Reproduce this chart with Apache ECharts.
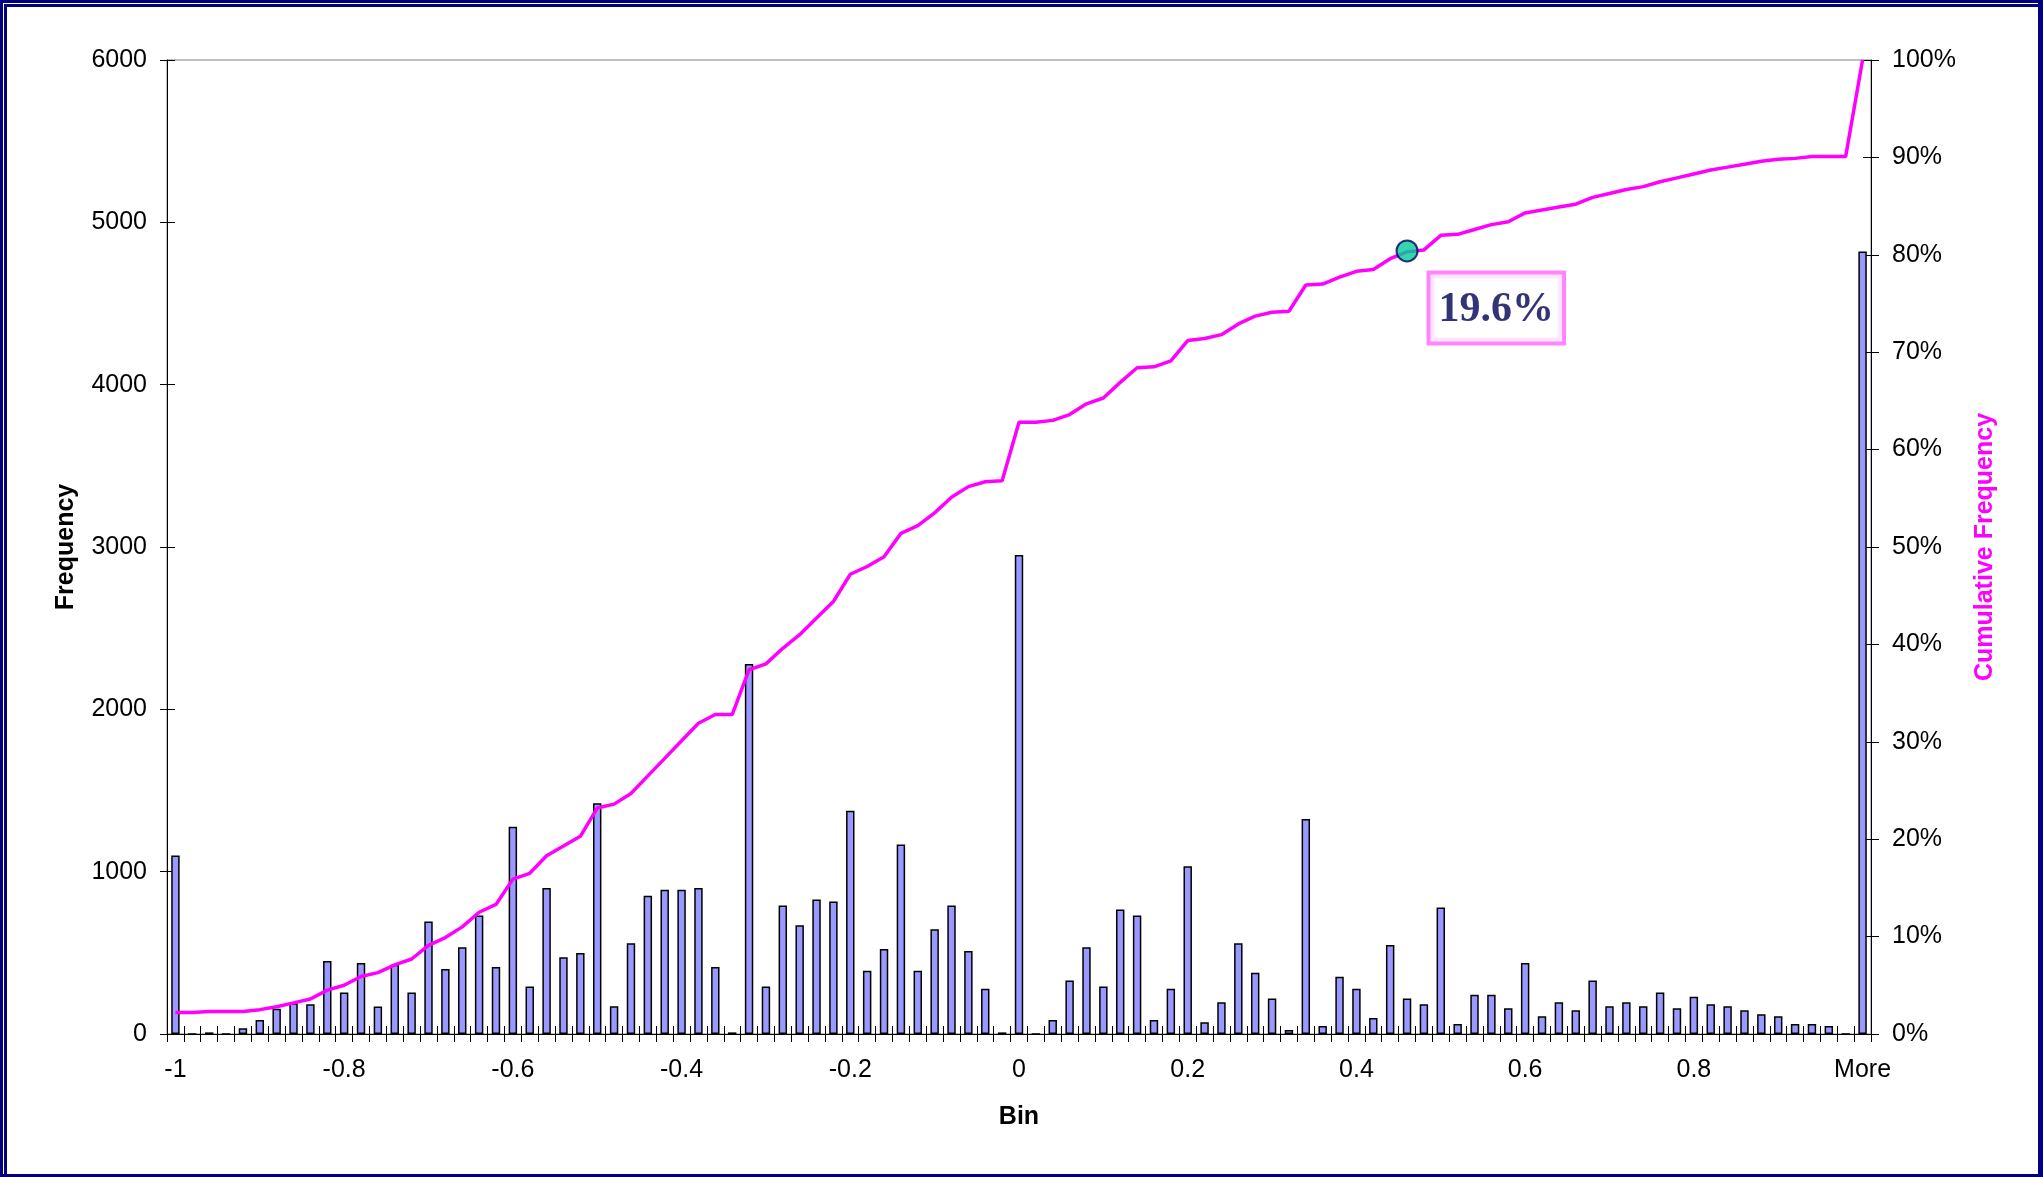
<!DOCTYPE html>
<html>
<head>
<meta charset="utf-8">
<title>Histogram</title>
<script src="https://cdn.jsdelivr.net/npm/echarts@6/dist/echarts.min.js"></script>
<style>
  html, body { margin: 0; padding: 0; background: #fff; }
  #wrap { position: relative; width: 2043px; height: 1177px; }
  #chart { position: absolute; left: 0; top: 0; width: 2043px; height: 1177px; }
  .frame1 { position: absolute; left: 0; top: 0; right: 0; bottom: 0;
            border-style: solid; border-color: #000080;
            border-width: 3px 5px 3px 3px; pointer-events: none; }
  .frame2 { position: absolute; left: 4px; top: 4px; right: 5px; bottom: 3px;
            border-style: solid; border-color: #000080;
            border-width: 3px 0 0 3px; pointer-events: none; }
</style>
</head>
<body>
<div id="wrap">
  <div id="chart"></div>
  <div class="frame1"></div>
  <div class="frame2"></div>
</div>
<script>
// Bin labels (upper edges of each bin), last bin collects everything above
const bins = [
  '-1','-0.98','-0.96','-0.94','-0.92','-0.9','-0.88','-0.86','-0.84','-0.82',
  '-0.8','-0.78','-0.76','-0.74','-0.72','-0.7','-0.68','-0.66','-0.64','-0.62',
  '-0.6','-0.58','-0.56','-0.54','-0.52','-0.5','-0.48','-0.46','-0.44','-0.42',
  '-0.4','-0.38','-0.36','-0.34','-0.32','-0.3','-0.28','-0.26','-0.24','-0.22',
  '-0.2','-0.18','-0.16','-0.14','-0.12','-0.1','-0.08','-0.06','-0.04','-0.02',
  '0','0.02','0.04','0.06','0.08','0.1','0.12','0.14','0.16','0.18',
  '0.2','0.22','0.24','0.26','0.28','0.3','0.32','0.34','0.36','0.38',
  '0.4','0.42','0.44','0.46','0.48','0.5','0.52','0.54','0.56','0.58',
  '0.6','0.62','0.64','0.66','0.68','0.7','0.72','0.74','0.76','0.78',
  '0.8','0.82','0.84','0.86','0.88','0.9','0.92','0.94','0.96','0.98',
  'More'
];

// Count of observations per bin
const frequency = [
  1100, 0, 10, 0, 35, 86, 156, 189, 183, 450,
  255, 438, 170, 427, 255, 693, 401, 534, 730, 413,
  1276, 292, 900, 473, 499, 1422, 171, 559, 851, 888,
  888, 900, 413, 10, 2280, 292, 791, 670, 828, 816,
  1375, 390, 524, 1167, 390, 645, 791, 512, 279, 10,
  2950, 0, 86, 329, 534, 292, 767, 730, 86, 279,
  1034, 72, 195, 559, 378, 218, 25, 1325, 49, 353,
  279, 99, 549, 218, 183, 779, 62, 242, 242, 158,
  438, 109, 195, 146, 329, 171, 195, 171, 255, 158,
  230, 183, 171, 146, 121, 109, 62, 62, 49, 0,
  4820
];

// Cumulative share of observations, percent
const cumulativePct = [
  2.2, 2.2, 2.3, 2.3, 2.3, 2.5, 2.8, 3.2, 3.6, 4.5,
  5.0, 5.9, 6.3, 7.1, 7.7, 9.1, 9.9, 11.0, 12.5, 13.3,
  15.9, 16.5, 18.3, 19.3, 20.3, 23.2, 23.6, 24.7, 26.5, 28.3,
  30.1, 31.9, 32.8, 32.8, 37.4, 38.0, 39.6, 41.0, 42.7, 44.4,
  47.2, 48.0, 49.0, 51.4, 52.2, 53.5, 55.1, 56.2, 56.7, 56.8,
  62.8, 62.8, 63.0, 63.6, 64.7, 65.3, 66.9, 68.4, 68.5, 69.1,
  71.2, 71.4, 71.8, 72.9, 73.7, 74.1, 74.2, 76.9, 77.0, 77.7,
  78.3, 78.5, 79.6, 80.3, 80.5, 82.0, 82.1, 82.6, 83.1, 83.4,
  84.3, 84.6, 84.9, 85.2, 85.9, 86.3, 86.7, 87.0, 87.5, 87.9,
  88.3, 88.7, 89.0, 89.3, 89.6, 89.8, 89.9, 90.1, 90.1, 90.1,
  100
];

// Highlighted bin and the share of observations above it
const markBin = '0.46';
const markAbovePct = 19.6;

const font = '"Liberation Sans", Arial, sans-serif';
const gridBox = { left: 167, right: 172, top: 60, bottom: 143 };

const chart = echarts.init(document.getElementById('chart'), null, { renderer: 'canvas' });

chart.setOption({
  animation: false,
  backgroundColor: 'transparent',
  grid: [
    Object.assign({ show: true, borderColor: '#808080', borderWidth: 1, backgroundColor: 'transparent' }, gridBox),
    Object.assign({ show: false }, gridBox)
  ],
  xAxis: [
    {
      type: 'category', gridIndex: 0, data: bins, position: 'bottom',
      axisLine: { lineStyle: { color: '#000', width: 1 } },
      axisTick: { show: true, interval: 0, length: 8, lineStyle: { color: '#000' } },
      axisLabel: { interval: 9, margin: 24, fontSize: 25, color: '#000', fontFamily: font },
      splitLine: { show: false },
      name: 'Bin', nameLocation: 'middle', nameGap: 71,
      nameTextStyle: { fontSize: 25, fontWeight: 'bold', color: '#000', fontFamily: font }
    },
    {
      type: 'category', gridIndex: 1, data: bins, position: 'bottom',
      axisLine: { show: false },
      axisTick: { show: true, inside: true, interval: 0, length: 8, lineStyle: { color: '#000' } },
      axisLabel: { show: false },
      splitLine: { show: false }
    }
  ],
  yAxis: [
    {
      type: 'value', gridIndex: 0, position: 'left', min: 0, max: 6000, interval: 1000,
      axisLine: { show: true, lineStyle: { color: '#000', width: 1 } },
      axisTick: { show: true, length: 7, lineStyle: { color: '#000' } },
      axisLabel: { margin: 20, fontSize: 25, color: '#000', fontFamily: font,
                   formatter: function (v) { return String(v); } },
      splitLine: { show: false },
      name: 'Frequency', nameLocation: 'middle', nameGap: 88,
      nameTextStyle: { fontSize: 25, fontWeight: 'bold', color: '#000', fontFamily: font }
    },
    {
      type: 'value', gridIndex: 0, position: 'right', min: 0, max: 100, interval: 10,
      axisLine: { show: true, lineStyle: { color: '#000', width: 1 } },
      axisTick: { show: true, length: 8, lineStyle: { color: '#000' } },
      axisLabel: { margin: 21, fontSize: 25, color: '#000', fontFamily: font, formatter: '{value}%' },
      splitLine: { show: false },
      name: 'Cumulative Frequency', nameLocation: 'middle', nameGap: 102,
      nameTextStyle: { fontSize: 25, fontWeight: 'bold', color: '#FF00FF', fontFamily: font }
    },
    {
      type: 'value', gridIndex: 1, position: 'left', min: 0, max: 6000, interval: 1000,
      axisLine: { show: false },
      axisTick: { show: true, inside: true, length: 8, lineStyle: { color: '#000' } },
      axisLabel: { show: false },
      splitLine: { show: false }
    },
    {
      type: 'value', gridIndex: 1, position: 'right', min: 0, max: 100, interval: 10,
      axisLine: { show: false },
      axisTick: { show: true, inside: true, length: 8, lineStyle: { color: '#000' } },
      axisLabel: { show: false },
      splitLine: { show: false }
    }
  ],
  series: [
    {
      name: 'Frequency', type: 'bar', xAxisIndex: 0, yAxisIndex: 0,
      data: frequency, barWidth: '50%',
      itemStyle: { color: '#9999FF', borderColor: '#000', borderWidth: 1.5 },
      z: 2
    },
    {
      name: 'Cumulative %', type: 'line', xAxisIndex: 0, yAxisIndex: 1,
      data: cumulativePct, symbol: 'none', smooth: false,
      lineStyle: { color: '#FF00FF', width: 3.5 },
      z: 3
    },
    {
      name: 'Marker', type: 'scatter', xAxisIndex: 0, yAxisIndex: 1,
      data: [[markBin, 100 - markAbovePct]],
      symbol: 'circle', symbolSize: 21,
      itemStyle: { color: '#00CC99', borderColor: '#000066', borderWidth: 2 },
      label: {
        show: true,
        formatter: markAbovePct + '%',
        position: [35, 35], align: 'left', verticalAlign: 'top',
        fontFamily: '"Liberation Serif", "Times New Roman", serif',
        fontWeight: 'bold', fontSize: 42, color: '#000055',
        backgroundColor: '#fff', borderColor: '#FF66FF', borderWidth: 4,
        padding: [11, 8, 6, 8], lineHeight: 50
      },
      z: 4
    }
  ]
});
</script>
</body>
</html>
